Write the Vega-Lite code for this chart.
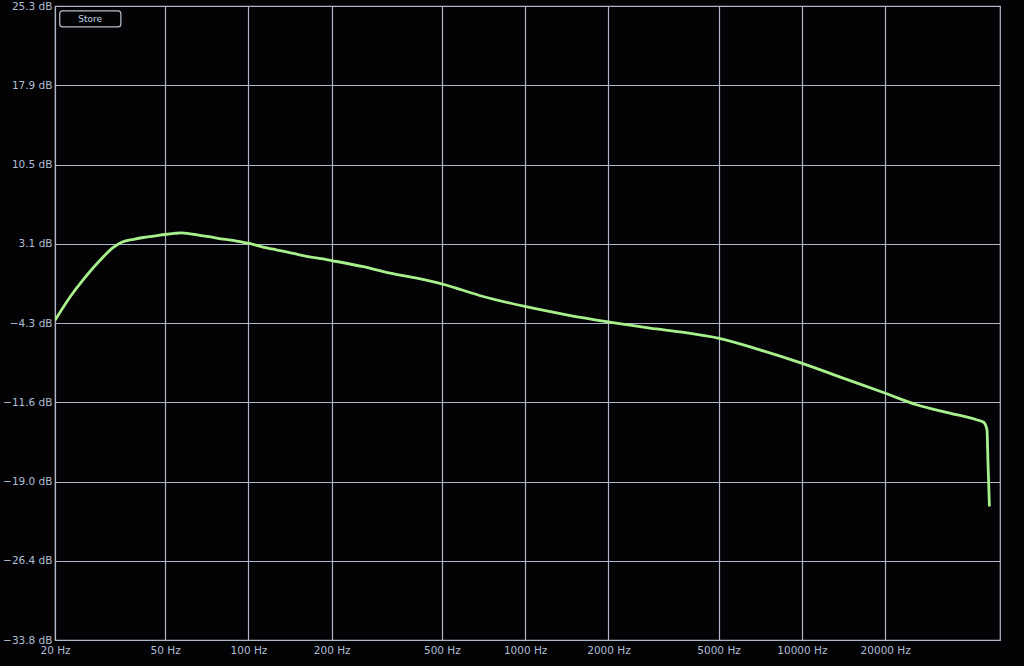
{
  "$schema": "https://vega.github.io/schema/vega-lite/v6.json",
  "width": 945,
  "height": 634,
  "autosize": "none",
  "padding": {"left": 55, "top": 6, "right": 24, "bottom": 26},
  "background": "#030305",
  "config": {
    "view": {"stroke": "#aeb6c8", "strokeWidth": 1.2, "fill": "#030305"},
    "font": "DejaVu Sans"
  },
  "datasets": {
    "response": [
      {"freq": 20, "db": -4.0},
      {"freq": 22.7, "db": -1.8},
      {"freq": 25.3, "db": -0.2},
      {"freq": 29.1, "db": 1.6},
      {"freq": 32.5, "db": 2.8},
      {"freq": 35, "db": 3.3},
      {"freq": 38.5, "db": 3.55},
      {"freq": 41.7, "db": 3.72},
      {"freq": 45.5, "db": 3.85},
      {"freq": 49.9, "db": 4.0},
      {"freq": 54, "db": 4.1},
      {"freq": 57.4, "db": 4.15},
      {"freq": 61, "db": 4.08},
      {"freq": 66.8, "db": 3.92},
      {"freq": 73, "db": 3.77},
      {"freq": 81.1, "db": 3.57},
      {"freq": 90, "db": 3.4},
      {"freq": 99.8, "db": 3.19},
      {"freq": 112, "db": 2.85},
      {"freq": 126, "db": 2.57},
      {"freq": 141, "db": 2.32},
      {"freq": 153, "db": 2.1},
      {"freq": 200, "db": 1.57},
      {"freq": 260, "db": 1.0},
      {"freq": 325, "db": 0.4},
      {"freq": 410, "db": -0.1},
      {"freq": 499, "db": -0.6},
      {"freq": 705, "db": -1.78},
      {"freq": 998, "db": -2.71},
      {"freq": 1412, "db": -3.49},
      {"freq": 1995, "db": -4.15},
      {"freq": 2822, "db": -4.73},
      {"freq": 3800, "db": -5.15},
      {"freq": 4980, "db": -5.66},
      {"freq": 7045, "db": -6.75},
      {"freq": 9970, "db": -7.99},
      {"freq": 14090, "db": -9.39},
      {"freq": 19935, "db": -10.78},
      {"freq": 25950, "db": -11.87},
      {"freq": 34240, "db": -12.65},
      {"freq": 42750, "db": -13.27},
      {"freq": 45400, "db": -13.5},
      {"freq": 46660, "db": -14.2},
      {"freq": 47060, "db": -17.3},
      {"freq": 47620, "db": -21.35}
    ],
    "button": [
      {"label": "Store", "f1": 20.8, "f2": 34.6, "fm": 26.8, "d1": 24.85, "d2": 23.35, "dm": 24.1}
    ]
  },
  "layer": [
    {
      "data": {"name": "response"},
      "mark": {"type": "line", "color": "#a8f08c", "strokeWidth": 2.8, "interpolate": "monotone", "clip": true},
      "encoding": {
        "x": {
          "field": "freq",
          "type": "quantitative",
          "scale": {"type": "log", "domain": [20, 52000], "nice": false},
          "axis": {
            "title": null,
            "values": [20, 50, 100, 200, 500, 1000, 2000, 5000, 10000, 20000],
            "labelExpr": "datum.value + ' Hz'",
            "labelColor": "#b0bed4",
            "labelFontSize": 10.5,
            "labelPadding": 5,
            "labelFlush": false,
            "labelOverlap": false,
            "ticks": false,
            "domain": false,
            "grid": true,
            "gridColor": "#aeb6c8",
            "gridWidth": 1.2,
            "gridOpacity": 1
          }
        },
        "y": {
          "field": "db",
          "type": "quantitative",
          "scale": {"domain": [-33.8, 25.3], "nice": false, "zero": false},
          "axis": {
            "title": null,
            "values": [-33.8, -26.4125, -19.025, -11.6375, -4.25, 3.1375, 10.525, 17.9125, 25.3],
            "labelExpr": "format(datum.value, '.1f') + ' dB'",
            "labelColor": "#b0bed4",
            "labelFontSize": 10.5,
            "labelPadding": 3,
            "labelFlush": false,
            "labelOverlap": false,
            "labelBaseline": "bottom",
            "labelOffset": 5,
            "ticks": false,
            "domain": false,
            "grid": true,
            "gridColor": "#aeb6c8",
            "gridWidth": 1.2,
            "gridOpacity": 1
          }
        }
      }
    },
    {
      "data": {"name": "button"},
      "mark": {"type": "rect", "fill": "#030305", "stroke": "#b8c0d0", "strokeWidth": 1.2, "cornerRadius": 3},
      "encoding": {
        "x": {"field": "f1", "type": "quantitative"},
        "x2": {"field": "f2"},
        "y": {"field": "d1", "type": "quantitative"},
        "y2": {"field": "d2"}
      }
    },
    {
      "data": {"name": "button"},
      "mark": {"type": "text", "color": "#c8d4e6", "fontSize": 9, "baseline": "middle", "align": "center"},
      "encoding": {
        "x": {"field": "fm", "type": "quantitative"},
        "y": {"field": "dm", "type": "quantitative"},
        "text": {"field": "label"}
      }
    }
  ]
}
